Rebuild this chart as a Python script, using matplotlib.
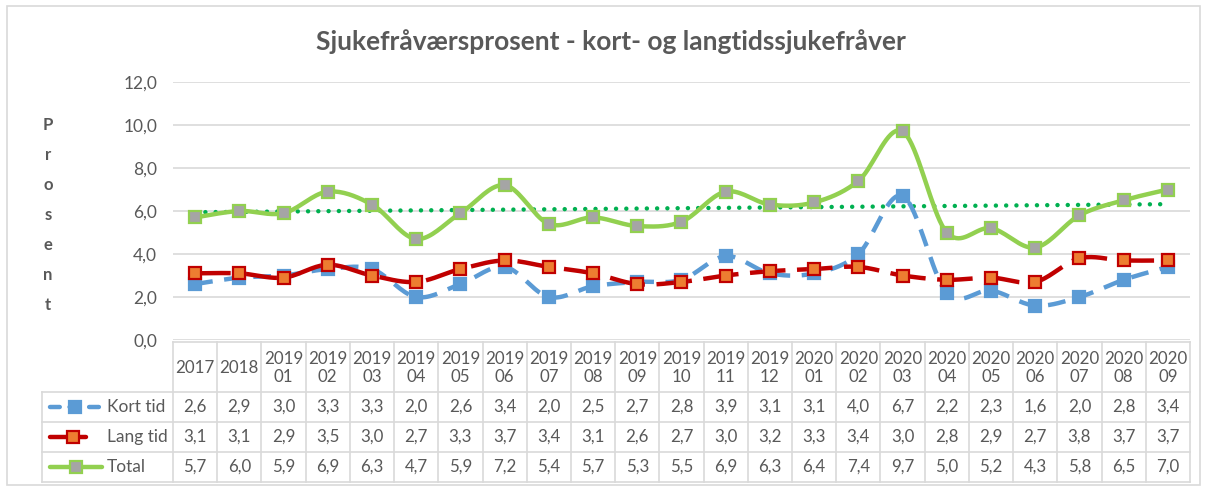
import numpy as np
import matplotlib
matplotlib.use("Agg")
import matplotlib.pyplot as plt
from matplotlib.patches import Rectangle

plt.rcParams['font.family'] = ['Lato', 'DejaVu Sans']

categories = ["2017", "2018", "2019\n01", "2019\n02", "2019\n03", "2019\n04", "2019\n05", "2019\n06",
              "2019\n07", "2019\n08", "2019\n09", "2019\n10", "2019\n11", "2019\n12", "2020\n01",
              "2020\n02", "2020\n03", "2020\n04", "2020\n05", "2020\n06", "2020\n07", "2020\n08", "2020\n09"]
kort_tid = [2.6, 2.9, 3.0, 3.3, 3.3, 2.0, 2.6, 3.4, 2.0, 2.5, 2.7, 2.8, 3.9, 3.1, 3.1, 4.0, 6.7, 2.2, 2.3, 1.6, 2.0, 2.8, 3.4]
lang_tid = [3.1, 3.1, 2.9, 3.5, 3.0, 2.7, 3.3, 3.7, 3.4, 3.1, 2.6, 2.7, 3.0, 3.2, 3.3, 3.4, 3.0, 2.8, 2.9, 2.7, 3.8, 3.7, 3.7]
total = [5.7, 6.0, 5.9, 6.9, 6.3, 4.7, 5.9, 7.2, 5.4, 5.7, 5.3, 5.5, 6.9, 6.3, 6.4, 7.4, 9.7, 5.0, 5.2, 4.3, 5.8, 6.5, 7.0]
series_names = ["Kort tid", "Lang tid", "Total"]
title = "Sjukefråværsprosent - kort- og langtidssjukefråver"
ylabel = "Prosent"

W, H = 1206, 488
fig = plt.figure(figsize=(W / 100, H / 100), dpi=100)

def fx(px):
    return px / W

def fy(py):
    return 1 - py / H

L, R, T, B = 173, 1190, 82, 340
ax = fig.add_axes([fx(L), fy(B), fx(R) - fx(L), fy(T) - fy(B)])
n = len(categories)
x = np.arange(n)
ax.set_xlim(-0.5, n - 0.5)
ax.set_ylim(0, 12)
ax.set_yticks(np.arange(0, 12.1, 2))
ax.set_yticklabels([f"{v:.1f}".replace('.', ',') for v in np.arange(0, 12.1, 2)])
ax.tick_params(axis='y', length=0, labelsize=12.5, labelcolor='#595959', pad=11.5)
ax.set_xticks([])
for s in ax.spines.values():
    s.set_visible(False)
ax.grid(axis='y', color='#D9D9D9', lw=1.2)
ax.set_axisbelow(True)


def smooth(xs, ys, steps=20):
    xs = np.asarray(xs, float)
    ys = np.asarray(ys, float)
    P = np.column_stack([xs, ys])
    P = np.vstack([P[0], P, P[-1]])
    out = []
    for i in range(1, len(P) - 2):
        p0, p1, p2, p3 = P[i - 1], P[i], P[i + 1], P[i + 2]
        c1 = p1 + (p2 - p0) / 6
        c2 = p2 - (p3 - p1) / 6
        t = np.linspace(0, 1, steps)[:, None]
        seg = (1 - t) ** 3 * p1 + 3 * (1 - t) ** 2 * t * c1 + 3 * (1 - t) * t ** 2 * c2 + t ** 3 * p2
        out.append(seg if i == 1 else seg[1:])
    S = np.vstack(out)
    return S[:, 0], S[:, 1]

blue = '#5B9BD5'
red = '#C00000'
green = '#92D050'
orange = '#ED7D31'
gray = '#A5A5A5'

styles = [
    dict(color=blue, dashes=(4, 2.6), mfc=blue, mec=blue),
    dict(color=red, dashes=(8, 2.6), mfc=orange, mec=red),
    dict(color=green, dashes=None, mfc=gray, mec=green),
]
data = [kort_tid, lang_tid, total]
lw = 3.2
ms = 8.5
for d, st in zip(data, styles):
    sx, sy = smooth(x, d)
    kw = dict(color=st['color'], lw=lw, solid_capstyle='round', dash_capstyle='butt', zorder=3)
    if st['dashes'] is not None:
        kw['dashes'] = st['dashes']
    ax.plot(sx, sy, **kw)
    ax.plot(x, d, ls='none', marker='s', ms=ms, mfc=st['mfc'], mec=st['mec'], mew=1.6, zorder=4)

# linear trendline for total
coef = np.polyfit(x, total, 1)
ax.plot(x, np.polyval(coef, x), color='#00B050', lw=3.2, ls=(0, (0.01, 2.3)),
        dash_capstyle='round', zorder=2)

fig.text(fx(611), fy(42), title, ha='center', va='center', fontsize=19, fontweight='bold', color='#595959')

for i, ch in enumerate(ylabel):
    fig.text(fx(48), fy(125 + 30 * i), ch, ha='center', va='center', fontsize=12,
             fontweight='bold', color='#595959')

# data table
tab = fig.add_axes([fx(L), fy(482), fx(R) - fx(L), fy(342) - fy(482)])
tab.set_xlim(-0.5, n - 0.5)
tab.set_ylim(482, 342)
tab.axis('off')
gc = '#D9D9D9'
rows_y = [342, 392, 422, 452, 482]
colw_px = (R - L) / n

def px2x(px):
    return -0.5 + (px - L) / colw_px

leg_left = px2x(42)
tab.plot([-0.5, n - 0.5], [rows_y[0]] * 2, color=gc, lw=1.2, clip_on=False)
for yy in rows_y[1:]:
    tab.plot([leg_left, n - 0.5], [yy] * 2, color=gc, lw=1.2, clip_on=False)
for i in range(n + 1):
    tab.plot([i - 0.5] * 2, [342, 482], color=gc, lw=1.2, clip_on=False)
tab.plot([leg_left] * 2, [392, 482], color=gc, lw=1.2, clip_on=False)

tc = '#595959'
for i, c in enumerate(categories):
    tab.text(i, 368, c, ha='center', va='center', fontsize=12.2, color=tc, linespacing=1.15, clip_on=False)
key_px = [(50, 100, 75), (50, 86, 73), (50, 102, 76)]
for r, (d, name, st) in enumerate(zip(data, series_names, styles)):
    yc = (rows_y[r + 1] + rows_y[r + 2]) / 2
    for i, v in enumerate(d):
        tab.text(i, yc, f"{v:.1f}".replace('.', ','), ha='center', va='center', fontsize=12.2,
                 color=tc, clip_on=False)
    k0, k1, km = key_px[r]
    kw = dict(color=st['color'], lw=3.2, solid_capstyle='round', dash_capstyle='round', clip_on=False)
    if r == 0:
        kw['dashes'] = (2.2, 2.2)
    tab.plot([px2x(k0), px2x(k1)], [yc, yc], **kw)
    tab.plot([px2x(km)], [yc], ls='none', marker='s', ms=8, mfc=st['mfc'], mec=st['mec'],
             mew=1.6, clip_on=False)
    tab.text(px2x(107), yc, name, ha='left', va='center', fontsize=12.5, color=tc, clip_on=False)

fig.patches.append(Rectangle((fx(7), fy(485)), fx(1200) - fx(7), fy(6) - fy(485),
                             transform=fig.transFigure, fill=False, ec='#D9D9D9', lw=1.2))

fig.savefig('out.png', dpi=100)
